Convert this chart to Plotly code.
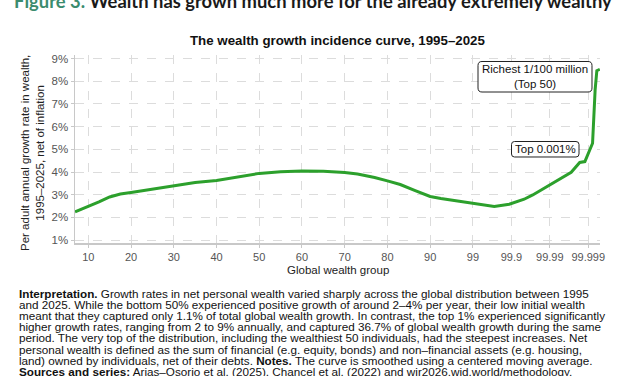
import plotly.graph_objects as go

# ---- data ----
group_position = [6.9, 10, 12.5, 15, 17.5, 20, 25, 30, 35, 40, 45, 50, 55, 60, 65, 70, 73, 77, 80, 83,
                  86.5, 90, 92.5, 95.5, 100, 105, 108.5, 112, 114, 118, 123, 125, 126.2, 128, 128.3,
                  128.6, 129, 129.7]
growth_rate = [2.24, 2.47, 2.68, 2.90, 3.03, 3.10, 3.25, 3.42, 3.54, 3.63, 3.79, 3.94, 4.01, 4.04, 4.03,
               3.98, 3.91, 3.76, 3.61, 3.45, 3.18, 2.92, 2.83, 2.74, 2.63, 2.48, 2.58, 2.80, 2.99, 3.43,
               3.99, 4.42, 4.46, 5.27, 6.45, 7.62, 8.47, 8.53]
x_tick_vals = [10, 20, 30, 40, 50, 60, 70, 80, 90, 100, 109, 118, 127]
x_tick_text = ["10", "20", "30", "40", "50", "60", "70", "80", "90", "99", "99.9", "99.99", "99.999"]
y_tick_vals = [1, 2, 3, 4, 5, 6, 7, 8, 9]
y_tick_text = ["1%", "2%", "3%", "4%", "5%", "6%", "7%", "8%", "9%"]

note_lines = [
    "<b>Interpretation.</b> Growth rates in net personal wealth varied sharply across the global distribution between 1995",
    "and 2025. While the bottom 50% experienced positive growth of around 2–4% per year, their low initial wealth",
    "meant that they captured only 1.1% of total global wealth growth. In contrast, the top 1% experienced significantly",
    "higher growth rates, ranging from 2 to 9% annually, and captured 36.7% of global wealth growth during the same",
    "period. The very top of the distribution, including the wealthiest 50 individuals, had the steepest increases. Net",
    "personal wealth is defined as the sum of financial (e.g. equity, bonds) and non–financial assets (e.g. housing,",
    "land) owned by individuals, net of their debts. <b>Notes.</b> The curve is smoothed using a centered moving average.",
    "<b>Sources and series:</b> Arias–Osorio et al. (2025), Chancel et al. (2022) and wir2026.wid.world/methodology.",
]

# ---- layout geometry ----
W, H = 627, 376
L, R, T, B = 75, 27, 55, 133
PW, PH = W - L - R, H - T - B

def px(x):
    return (x - L) / PW

def py(y):
    return 1 - (y - T) / PH

def rounded_box(x0, y0, x1, y1, r=3):
    """SVG path (paper coords) for a rounded rectangle given in pixel coords."""
    pts = [
        ("M", [(x0 + r, y0)]), ("L", [(x1 - r, y0)]), ("Q", [(x1, y0), (x1, y0 + r)]),
        ("L", [(x1, y1 - r)]), ("Q", [(x1, y1), (x1 - r, y1)]), ("L", [(x0 + r, y1)]),
        ("Q", [(x0, y1), (x0, y1 - r)]), ("L", [(x0, y0 + r)]), ("Q", [(x0, y0), (x0 + r, y0)]),
    ]
    s = ""
    for cmd, ps in pts:
        s += cmd + " " + " ".join(f"{px(a):.5f},{py(b):.5f}" for a, b in ps) + " "
    return s + "Z"

SANS = "Liberation Sans, Arial, sans-serif"
GRID = "#dcdcdc"

fig = go.Figure()
fig.add_trace(go.Scatter(x=group_position, y=growth_rate, mode="lines",
                         line=dict(color="#2ca02c", width=3), hoverinfo="skip"))

annotations = []
# figure heading (cut off at the top like the reference)
annotations.append(dict(xref="paper", yref="paper", x=px(12), y=py(14), xanchor="left", yanchor="bottom",
                        text="<b><span style='color:#3b8c6e'>Figure 3.</span> Wealth has grown much more for the already extremely wealthy</b>",
                        showarrow=False, font=dict(family="Lato", size=18.4, color="#1a1a1a")))
# chart title
annotations.append(dict(xref="paper", yref="paper", x=0.5, y=py(41), xanchor="center", yanchor="middle",
                        text="<b>The wealth growth incidence curve, 1995–2025</b>", showarrow=False,
                        font=dict(family=SANS, size=13.3, color="#111")))
# y title
annotations.append(dict(xref="paper", yref="paper", x=px(32), y=py(153), xanchor="center", yanchor="middle",
                        text="Per adult annual growth rate in wealth,<br>1995–2025, net of inflation",
                        textangle=-90, showarrow=False, font=dict(family=SANS, size=11.5, color="#222")))
# x title
annotations.append(dict(xref="paper", yref="paper", x=0.5, y=py(270), xanchor="center", yanchor="middle",
                        text="Global wealth group", showarrow=False,
                        font=dict(family=SANS, size=11.5, color="#222")))
# labels in chart (rounded frames drawn as shapes)
annotations.append(dict(x=114.5, y=8.22, xref="x", yref="y", text="Richest 1/100 million<br>(Top 50)",
                        showarrow=False, borderpad=2,
                        font=dict(family=SANS, size=11.5, color="#111")))
annotations.append(dict(x=117.0, y=5.02, xref="x", yref="y", text="Top 0.001%",
                        showarrow=False, borderpad=1,
                        font=dict(family=SANS, size=11.5, color="#111")))
# notes
for i, line in enumerate(note_lines):
    annotations.append(dict(xref="paper", yref="paper", x=px(17), y=py(293 + 11.2 * i),
                            xanchor="left", yanchor="middle", text=line, showarrow=False,
                            font=dict(family=SANS, size=11.7, color="#111")))

shapes = [
    dict(type="path", xref="paper", yref="paper", path=rounded_box(478, 61.5, 592, 92, 4),
         line=dict(color="#222", width=1), fillcolor="white", layer="above"),
    dict(type="path", xref="paper", yref="paper", path=rounded_box(511.5, 141.5, 579, 157, 3),
         line=dict(color="#222", width=1), fillcolor="white", layer="above"),
]

fig.update_layout(
    width=W, height=H, margin=dict(l=L, r=R, t=T, b=B),
    plot_bgcolor="white", paper_bgcolor="white", showlegend=False,
    annotations=annotations, shapes=shapes,
    xaxis=dict(range=[6.89, 129.74], tickmode="array", tickvals=x_tick_vals, ticktext=x_tick_text,
               showgrid=True, gridcolor=GRID, griddash="dash", gridwidth=1,
               showline=True, linecolor="#c8c8c8", linewidth=1.5, ticks="outside", ticklen=3,
               tickcolor="#c8c8c8", tickfont=dict(family=SANS, size=11, color="#555"), zeroline=False),
    yaxis=dict(range=[0.87, 9.16], tickmode="array", tickvals=y_tick_vals, ticktext=y_tick_text,
               showgrid=True, gridcolor=GRID, griddash="dash", gridwidth=1,
               showline=True, linecolor="#c8c8c8", linewidth=1.5, ticks="outside", ticklen=3,
               tickcolor="#c8c8c8", tickfont=dict(family=SANS, size=11.5, color="#555"), zeroline=False),
)

fig.write_html("out.html", config={"displayModeBar": False, "staticPlot": True},
               post_script="document.body.style.margin='0';document.body.style.overflow='hidden';")
